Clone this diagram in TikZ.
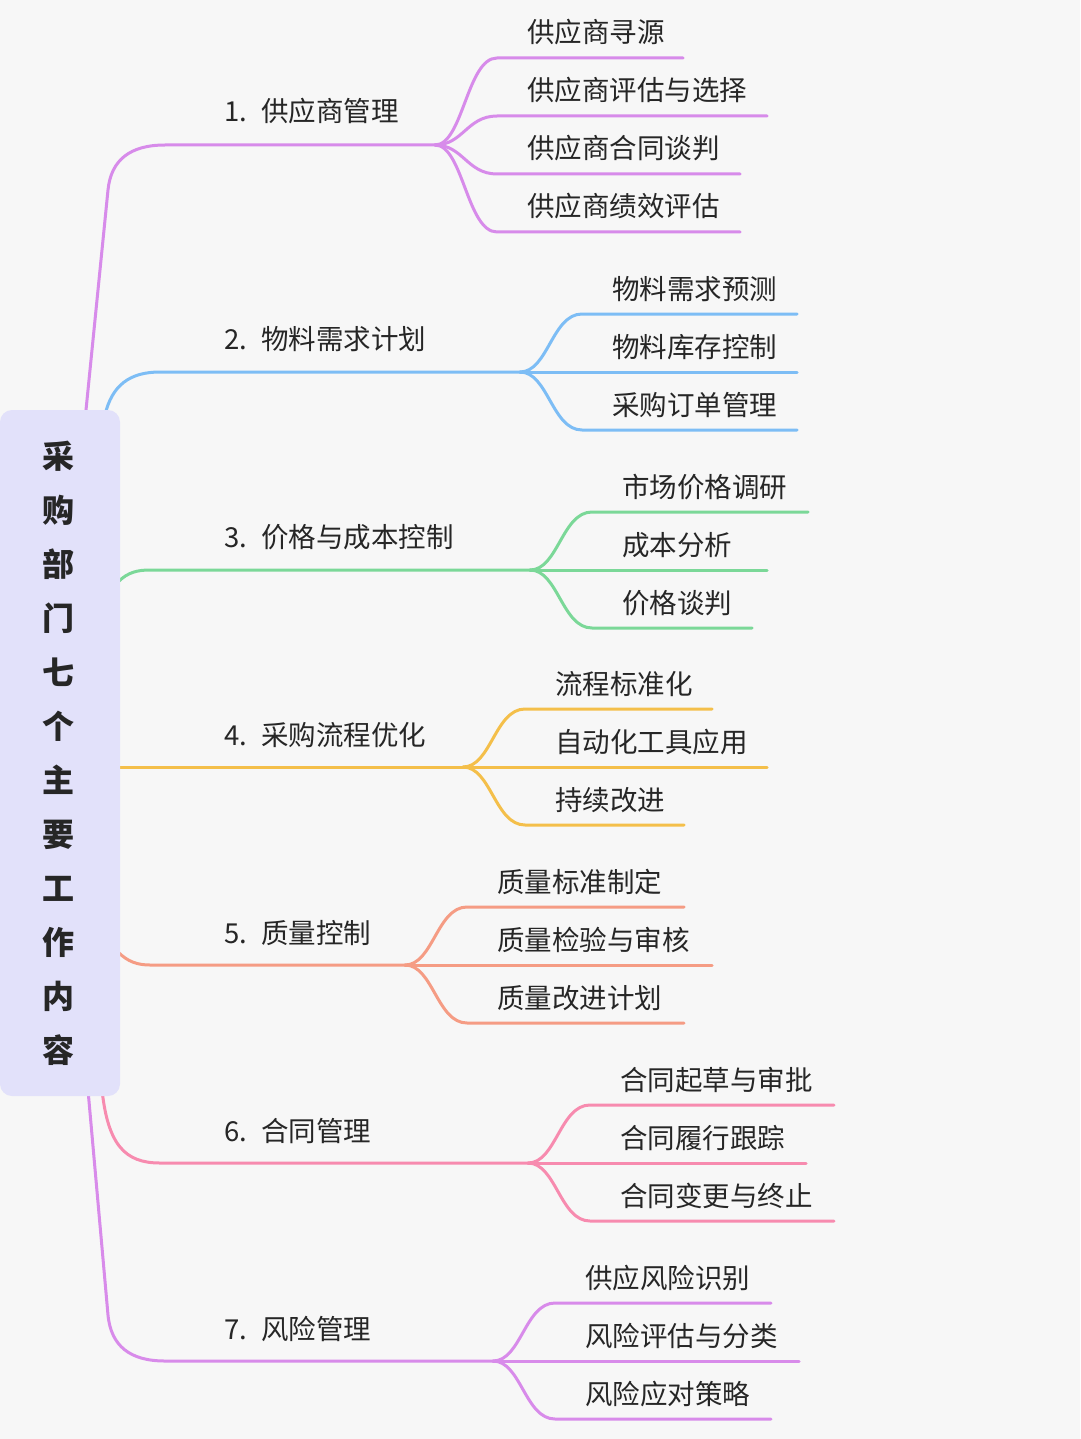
\documentclass[tikz,border=0pt]{standalone}
\usepackage{fontspec}
\setmainfont{Noto Sans CJK SC}
\definecolor{bg}{HTML}{F7F7F7}
\definecolor{rootc}{HTML}{E2E1FA}
\definecolor{c1}{HTML}{D78BEA}
\definecolor{c2}{HTML}{7DBDF5}
\definecolor{c3}{HTML}{7BD898}
\definecolor{c4}{HTML}{F4BF4A}
\definecolor{c5}{HTML}{F59C84}
\definecolor{c6}{HTML}{F78BAF}
\definecolor{c7}{HTML}{D88BEA}
\tikzset{ln/.style={line width=3pt,line cap=round},
 lab/.style={font=\fontsize{27.5}{27.5}\selectfont,text=black!85,anchor=base west,inner sep=0},
}
\newcommand\kid[6]{% fx, fy, cy, xend, text, color
 \coordinate (s) at (#1,#2); \coordinate (e) at (#1+62,#3); \coordinate (t) at (#4,#3);
 \draw[ln,#6] (s) .. controls (#1+28,#2) and (#1+32,#3) .. (e) -- (t);
 \node[lab] (k) at (#1+92,#3-15) {#5};}
\newcommand\blab[3]{\node[lab] (#1) at (224,#2) {#3};}
\begin{document}
\begin{tikzpicture}[x=1pt,y=-1pt]
\fill[bg] (0,0) rectangle (1080,1439);
\useasboundingbox (0,0) rectangle (1080,1439);
\coordinate (f1) at (435,145);
\draw[ln,c1] (85,420) -- (108,190) .. controls (111,160) and (130,145) .. (165,145) -- (f1);
\blab{b1}{122}{1.\hspace{14pt}供应商管理}
\kid{435}{145}{58}{683}{供应商寻源}{c1}
\kid{435}{145}{116}{767}{供应商评估与选择}{c1}
\kid{435}{145}{174}{740}{供应商合同谈判}{c1}
\kid{435}{145}{232}{740}{供应商绩效评估}{c1}

\coordinate (f2) at (520,372);
\draw[ln,c2] (105,415) .. controls (112,385) and (130,372) .. (160,372) -- (f2);
\blab{b2}{349}{2.\hspace{14pt}物料需求计划}
\kid{520}{372}{314}{797}{物料需求预测}{c2}
\kid{520}{372}{372}{797}{物料库存控制}{c2}
\kid{520}{372}{430}{797}{采购订单管理}{c2}

\coordinate (f3) at (530,570);
\draw[ln,c3] (118,582) .. controls (128,572) and (138,570) .. (150,570) -- (f3);
\blab{b3}{547}{3.\hspace{14pt}价格与成本控制}
\kid{530}{570}{512}{808}{市场价格调研}{c3}
\kid{530}{570}{570}{767}{成本分析}{c3}
\kid{530}{570}{628}{752}{价格谈判}{c3}

\coordinate (f4) at (463,767);
\draw[ln,c4] (118,767) -- (f4);
\blab{b4}{745}{4.\hspace{14pt}采购流程优化}
\kid{463}{767}{709}{712}{流程标准化}{c4}
\kid{463}{767}{767}{767}{自动化工具应用}{c4}
\kid{463}{767}{825}{684}{持续改进}{c4}

\coordinate (f5) at (405,965);
\draw[ln,c5] (118,952) .. controls (128,962) and (138,965) .. (150,965) -- (f5);
\blab{b5}{943}{5.\hspace{14pt}质量控制}
\kid{405}{965}{907}{684}{质量标准制定}{c5}
\kid{405}{965}{965}{712}{质量检验与审核}{c5}
\kid{405}{965}{1023}{684}{质量改进计划}{c5}

\coordinate (f6) at (528,1163);
\draw[ln,c6] (102,1090) .. controls (108,1145) and (125,1163) .. (160,1163) -- (f6);
\blab{b6}{1141}{6.\hspace{14pt}合同管理}
\kid{528}{1163}{1105}{834}{合同起草与审批}{c6}
\kid{528}{1163}{1163}{806}{合同履行跟踪}{c6}
\kid{528}{1163}{1221}{834}{合同变更与终止}{c6}

\coordinate (f7) at (493,1361);
\draw[ln,c7] (88,1090) -- (108,1315) .. controls (111,1346) and (130,1361) .. (165,1361) -- (f7);
\blab{b7}{1339}{7.\hspace{14pt}风险管理}
\kid{493}{1361}{1303}{771}{供应风险识别}{c7}
\kid{493}{1361}{1361}{799}{风险评估与分类}{c7}
\kid{493}{1361}{1419}{771}{风险应对策略}{c7}

\fill[rootc,rounded corners=12pt] (0,410) rectangle (120,1096);
\node[font=\fontsize{32}{54}\selectfont\bfseries,text=black!85,align=center,inner sep=0] (root) at (58,753)
 {采\\购\\部\\门\\七\\个\\主\\要\\工\\作\\内\\容};
\end{tikzpicture}
\end{document}
